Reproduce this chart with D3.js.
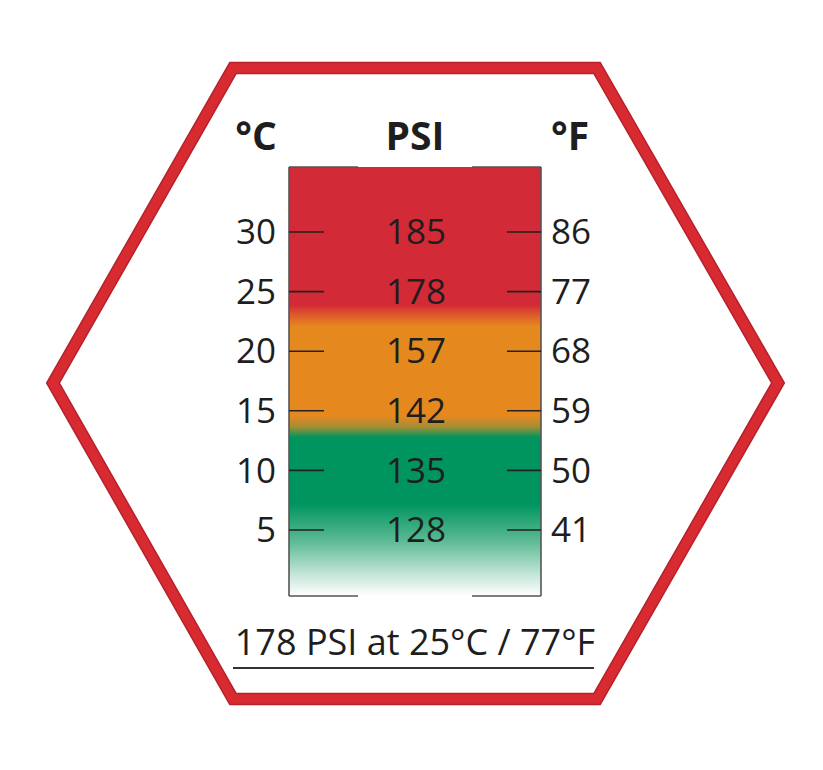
<!DOCTYPE html>
<html><head><meta charset="utf-8">
<script src="https://cdn.jsdelivr.net/npm/d3@7"></script>
<style>body{margin:0;background:#fff}svg{display:block}text{font-family:"Open Sans","Noto Sans",sans-serif;fill:#1e1e1e}</style>
</head><body>
<script>
const celsius = [30, 25, 20, 15, 10, 5];
const psi = [185, 178, 157, 142, 135, 128];
const fahrenheit = [86, 77, 68, 59, 50, 41];
const headers = ["°C", "PSI", "°F"];
const footer = "178 PSI at 25°C / 77°F";

const W = 823, H = 770;
const svg = d3.select("body").append("svg").attr("width", W).attr("height", H);

// hexagon
const hex = [[233,68],[597,68],[778,383],[597,699],[233,699],[53,383]];
svg.append("polygon").attr("points", hex.map(p=>p.join(",")).join(" "))
  .attr("fill","#fff").attr("stroke","#b8202a").attr("stroke-width",12.5).attr("stroke-linejoin","miter");
svg.append("polygon").attr("points", hex.map(p=>p.join(",")).join(" "))
  .attr("fill","none").attr("stroke","#d72b31").attr("stroke-width",9.5).attr("stroke-linejoin","miter");

const barL = 289, barR = 541, barT = 167, barB = 596;
const y = d3.scaleLinear().domain([30, 5]).range([232, 530]);

// gradient
const defs = svg.append("defs");
const g = defs.append("linearGradient").attr("id","grad").attr("x1",0).attr("y1",0).attr("x2",0).attr("y2",1);
const stops = [
  [0, "#d22a36"], [0.322, "#d22a36"], [0.345, "#df5a2b"], [0.372, "#e5891f"],
  [0.58, "#e5891f"], [0.605, "#a88d33"], [0.63, "#00955f"],
  [0.785, "#00955f"], [0.87, "#5ab993"], [0.95, "#c4e6d8"], [1, "#ffffff"]
];
stops.forEach(s => g.append("stop").attr("offset", s[0]).attr("stop-color", s[1]));
svg.append("rect").attr("x", barL).attr("y", barT).attr("width", barR-barL).attr("height", barB-barT)
  .attr("fill","url(#grad)");

// bar borders
const bc = "#555";
const border = svg.append("g").attr("stroke", bc).attr("stroke-width", 1.6).attr("fill","none");
border.append("line").attr("x1",barL).attr("x2",barL).attr("y1",barT).attr("y2",barB);
border.append("line").attr("x1",barR).attr("x2",barR).attr("y1",barT).attr("y2",barB);
[barT, barB].forEach(yy => {
  border.append("line").attr("x1",barL).attr("x2",358).attr("y1",yy).attr("y2",yy);
  border.append("line").attr("x1",472).attr("x2",barR).attr("y1",yy).attr("y2",yy);
});

// ticks
const ticks = svg.append("g").attr("stroke","#222").attr("stroke-width",1.6);
celsius.forEach(c => {
  ticks.append("line").attr("x1",barL).attr("x2",324).attr("y1",y(c)).attr("y2",y(c));
  ticks.append("line").attr("x1",507).attr("x2",barR).attr("y1",y(c)).attr("y2",y(c));
});

// labels
const fs = 35;
svg.append("g").selectAll("text").data(celsius).join("text")
  .attr("x", 276).attr("y", d => y(d)).attr("dy","0.35em").attr("text-anchor","end")
  .attr("font-size", fs).text(d => d);
svg.append("g").selectAll("text").data(psi).join("text")
  .attr("x", 416).attr("y", (d,i) => y(celsius[i])).attr("dy","0.35em").attr("text-anchor","middle")
  .attr("font-size", fs).text(d => d);
svg.append("g").selectAll("text").data(fahrenheit).join("text")
  .attr("x", 551).attr("y", (d,i) => y(celsius[i])).attr("dy","0.35em").attr("text-anchor","start")
  .attr("font-size", fs).text(d => d);

// headers
const hx = [256, 415, 570];
svg.append("g").selectAll("text").data(headers).join("text")
  .attr("x",(d,i)=>hx[i]).attr("y",150).attr("text-anchor","middle")
  .attr("font-size",39).attr("font-weight","bold").text(d=>d);

// footer
svg.append("text").attr("x",415).attr("y",655).attr("text-anchor","middle")
  .attr("font-size",36).text(footer);
svg.append("line").attr("x1",233).attr("x2",594).attr("y1",668).attr("y2",668)
  .attr("stroke","#333").attr("stroke-width",1.8);
</script>
</body></html>
